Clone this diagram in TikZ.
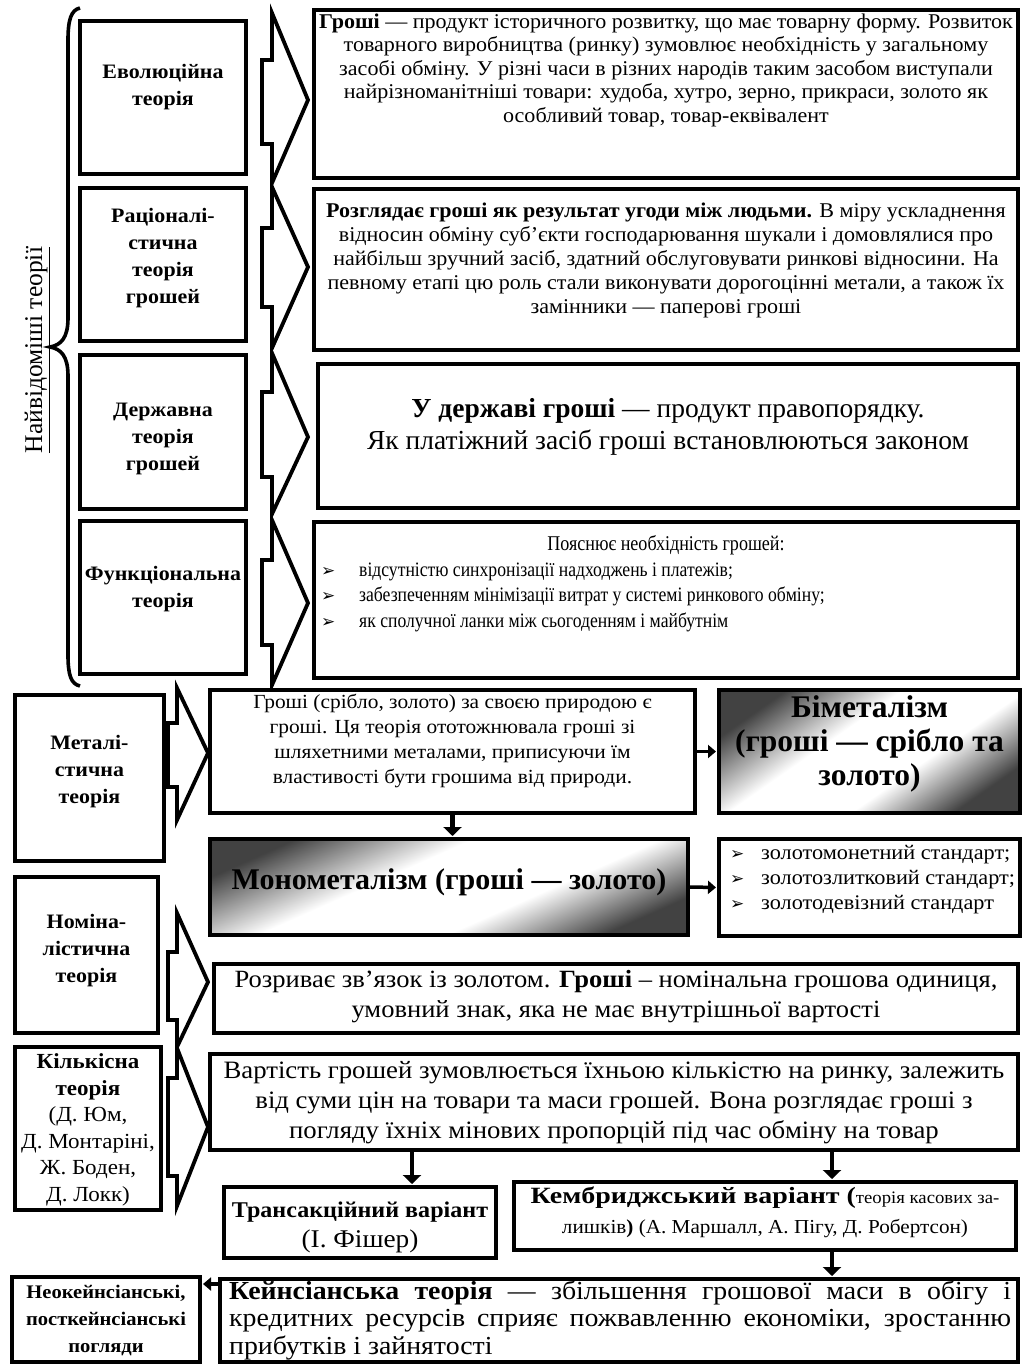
\documentclass[tikz,border=0pt]{standalone}
\usepackage{fontspec}
\setmainfont{Liberation Serif}
\newfontfamily\narrowserif[FakeStretch=0.86]{Liberation Serif}
\newfontfamily\plainserif[FakeStretch=1.05]{Liberation Serif}
\newfontfamily\wideserif[FakeStretch=1.07]{Liberation Serif}
\newfontfamily\xwideserif[FakeStretch=1.2]{Liberation Serif}
\newfontfamily\symfont{DejaVu Sans}
\usetikzlibrary{arrows.meta,calc}

\newcommand\fs[2]{\fontsize{#1}{#2}\selectfont}
\newcommand\bul[1]{\makebox[#1][l]{\symfont\fontsize{17}{17}\selectfont ➢}}

% metallic sheen: dark corners, broad white band across the middle
\pgfdeclarehorizontalshading{metalshade}{100bp}{color(0bp)=(black!74); color(25bp)=(black!74);
  color(42bp)=(white); color(60bp)=(white); color(75bp)=(black!74); color(100bp)=(black!74)}

\begin{document}
\begin{tikzpicture}[x=1pt,y=-1pt,
  frame/.style={draw=black, line width=4pt, rectangle, inner sep=0pt, fill=white},
  lbl/.style={align=center, inner sep=0pt, font=\wideserif\bfseries\fs{20.5}{27}},
  txt/.style={align=center, inner sep=0pt},
  chev/.style={draw=black, line width=3.8pt, line join=miter, fill=white},
  arr/.style={line width=4.5pt, -{Triangle[length=9pt,width=18pt]}, shorten >=1pt},
  sarr/.style={line width=3.5pt, -{Triangle[length=8pt,width=13pt]}, shorten >=1pt},
  grad/.style={draw=black, line width=4pt, rectangle, inner sep=0pt, shading=metalshade},
]
\useasboundingbox (0,0) rectangle (1025,1367);

% ---------- heading and brace ----------
\node[rotate=90, inner sep=0pt, font=\fs{25.5}{28}] (head) at (37,350) {\underline{Найвідоміші теорії}};
\draw[line width=3.6pt] (80,8) .. controls (71,10) and (68,20) .. (68,40) -- (68,318)
  .. controls (68,338) and (61,345) .. (50,347) .. controls (61,349) and (68,356) .. (68,376)
  -- (68,655) .. controls (68,675) and (71,684) .. (80,686);

% ---------- four classic theories ----------
\node[frame, minimum width=166pt, minimum height=153pt] (evo)   at (163,97.5)  {};
\node[frame, minimum width=166pt, minimum height=153pt] (ratio) at (163,264.5) {};
\node[frame, minimum width=166pt, minimum height=154pt] (state) at (163,432)   {};
\node[frame, minimum width=166pt, minimum height=153pt] (func)  at (163,597.5) {};
\node[lbl] (evoT)   at (163,87)  {Еволюційна\\теорія};
\node[lbl] (ratioT) at (163,258) {Раціоналі-\\стична\\теорія\\грошей};
\node[lbl] (stateT) at (163,439) {Державна\\теорія\\грошей};
\node[lbl] (funcT)  at (163,589) {Функціональна\\теорія};

% hollow arrows
\draw[chev] (272,13)  -- (308,100) -- (272,183) -- (272,144) -- (262,144) -- (262,60)  -- (272,60)  -- cycle;
\draw[chev] (272,187) -- (308,267) -- (272,348) -- (272,307) -- (262,307) -- (262,228) -- (272,228) -- cycle;
\draw[chev] (272,353) -- (308,437) -- (272,514) -- (272,477) -- (262,477) -- (262,392) -- (272,392) -- cycle;
\draw[chev] (272,520) -- (308,603) -- (272,685) -- (272,645) -- (262,645) -- (262,560) -- (272,560) -- cycle;

\node[frame, minimum width=704pt, minimum height=168pt] (r1) at (666,94)    {};
\node[frame, minimum width=704pt, minimum height=161pt] (r2) at (666,269.5) {};
\node[frame, minimum width=700pt, minimum height=144pt] (r3) at (668,436)   {};
\node[frame, minimum width=704pt, minimum height=156pt] (r4) at (666,600)   {};

\node[txt, font=\plainserif\fs{21}{23.5}] (r1T) at (666,70)
 {\textbf{Гроші} — продукт історичного розвитку, що має товарну форму. Розвиток\\
  товарного виробництва (ринку) зумовлює необхідність у загальному\\
  засобі обміну. У різні часи в різних народів таким засобом виступали\\
  найрізноманітніші товари: худоба, хутро, зерно, прикраси, золото як\\
  особливий товар, товар-еквівалент};
\node[txt, font=\plainserif\fs{21}{24}] (r2T) at (666,260)
 {\textbf{Розглядає гроші як результат угоди між людьми.} В міру ускладнення\\
  відносин обміну суб’єкти господарювання шукали і домовлялися про\\
  найбільш зручний засіб, здатний обслуговувати ринкові відносини. На\\
  певному етапі цю роль стали виконувати дорогоцінні метали, а також їх\\
  замінники — паперові гроші};
\node[txt, font=\fs{27.5}{32}] (r3T) at (668,427)
 {\textbf{У державі гроші} — продукт правопорядку.\\
  Як платіжний засіб гроші встановлюються законом};
\node[txt, font=\narrowserif\fs{21}{24}] (r4H) at (666,545) {Пояснює необхідність грошей:};
\node[txt, align=left, anchor=west, font=\narrowserif\fs{20.5}{25.5}] (r4L) at (321,597)
 {\bul{38pt}відсутністю синхронізації надходжень і платежів;\\
  \bul{38pt}забезпеченням мінімізації витрат у системі ринкового обміну;\\
  \bul{38pt}як сполучної ланки між сьогоденням і майбутнім};

% ---------- metallic theory ----------
\node[frame, minimum width=149pt, minimum height=166pt] (metal) at (89.5,778) {};
\node[lbl] (metalT) at (89.5,772) {Металі-\\стична\\теорія};
\draw[chev] (177,688) -- (208,753) -- (177,820) -- (177,787) -- (168,787) -- (168,723) -- (177,723) -- cycle;

\node[frame, minimum width=485pt, minimum height=123pt] (mtext) at (452.5,751.5) {};
\node[txt, font=\wideserif\fs{20}{25}] (mtextT) at (452.5,741)
 {Гроші (срібло, золото) за своєю природою є\\
  гроші. Ця теорія ототожнювала гроші зі\\
  шляхетними металами, приписуючи їм\\
  властивості бути грошима від природи.};

\node[grad, shading angle=-55, minimum width=301pt, minimum height=123pt] (bimet) at (869.5,751.5) {};
\node[txt, font=\bfseries\fs{31.5}{34}] (bimetT) at (869.5,744)
 {Біметалізм\\(гроші — срібло та\\золото)};

\node[grad, shading angle=-66, minimum width=478pt, minimum height=96pt] (mono) at (449,887) {};
\node[txt, font=\bfseries\fs{30}{32}] (monoT) at (449,882) {Монометалізм (гроші — золото)};

\node[frame, minimum width=301pt, minimum height=97pt] (gold) at (869.5,887.5) {};
\node[txt, align=left, anchor=west, font=\wideserif\fs{20.8}{25}] (goldT) at (730,880)
 {\bul{31pt}золотомонетний стандарт;\\
  \bul{31pt}золотозлитковий стандарт;\\
  \bul{31pt}золотодевізний стандарт};

\draw[arr]  (mtext.south) -- (mtext.south |- mono.north);
\draw[sarr] (mtext.east) -- (bimet.west);
\draw[sarr] (mono.east) -- (gold.west);

% ---------- nominalistic theory ----------
\node[frame, minimum width=143pt, minimum height=156pt] (nomin) at (86.5,955) {};
\node[lbl] (nominT) at (86.5,951) {Номіна-\\лістична\\теорія};
\draw[chev] (177,913) -- (208,982) -- (177,1047) -- (177,1020) -- (168,1020) -- (168,952) -- (177,952) -- cycle;

\node[frame, minimum width=804pt, minimum height=69pt] (ntext) at (616,998.5) {};
\node[txt, font=\wideserif\fs{24.8}{30}] (ntextT) at (616,997)
 {Розриває зв’язок із золотом. \textbf{Гроші} – номінальна грошова одиниця,\\
  умовний знак, яка не має внутрішньої вартості};

% ---------- quantity theory ----------
\node[frame, minimum width=146pt, minimum height=163pt] (quant) at (88,1128.5) {};
\node[txt, font=\wideserif\fs{21.5}{26.5}] (quantT) at (88,1130)
 {\textbf{Кількісна}\\\textbf{теорія}\\(Д. Юм,\\Д. Монтаріні,\\Ж. Боден,\\Д. Локк)};
\draw[chev] (177,1048) -- (208,1127) -- (177,1206) -- (177,1176) -- (168,1176) -- (168,1078) -- (177,1078) -- cycle;

\node[frame, minimum width=808pt, minimum height=96pt] (qtext) at (614,1102) {};
\node[txt, font=\wideserif\fs{25}{30}] (qtextT) at (614,1103)
 {Вартість грошей зумовлюється їхньою кількістю на ринку, залежить\\
  від суми цін на товари та маси грошей. Вона розглядає гроші з\\
  погляду їхніх мінових пропорцій під час обміну на товар};

\node[frame, minimum width=272pt, minimum height=71pt] (trans) at (360,1222.5) {};
\node[txt, font=\wideserif\fs{25.5}{30}] (transT) at (360,1227)
 {\textbf{\fontsize{22.5}{30}\selectfont Трансакційний варіант}\\(І. Фішер)};

\node[frame, minimum width=502pt, minimum height=68pt] (camb) at (765,1216) {};
\node[txt, font=\wideserif\fs{19.8}{30}] (cambT) at (765,1212)
 {{\xwideserif\bfseries\fontsize{23.3}{30}\selectfont Кембриджський варіант (}{\fontsize{17.5}{30}\selectfont теорія касових за-}\\
  лишків\textbf{)} (А. Маршалл, А. Пігу, Д. Робертсон)};

\coordinate (c1) at (412,0);
\coordinate (c2) at (832,0);
\draw[arr] (qtext.south -| c1) -- (trans.north -| c1);
\draw[arr] (qtext.south -| c2) -- (camb.north -| c2);

% ---------- Keynesian theory ----------
\node[frame, minimum width=798pt, minimum height=83pt] (keyn) at (619,1320.5) {};
\node[inner sep=0pt, anchor=west, text width=782pt, align=justify, font=\wideserif\fs{26}{27.5}] (keynT) at (229,1320)
 {\textbf{Кейнсіанська теорія} — збільшення грошової маси в обігу і\linebreak
  кредитних ресурсів сприяє пожвавленню економіки, зростанню\linebreak
  прибутків і зайнятості};

\node[frame, minimum width=188pt, minimum height=85pt] (neo) at (106,1319.5) {};
\node[txt, font=\wideserif\bfseries\fs{19.2}{27}] (neoT) at (106,1320) {Неокейнсіанські,\\посткейнсіанські\\погляди};

\draw[arr] (camb.south -| c2) -- (keyn.north -| c2);
\coordinate (c3) at (0,1284);
\draw[sarr] (keyn.west |- c3) -- (neo.east |- c3);
\end{tikzpicture}
\end{document}
